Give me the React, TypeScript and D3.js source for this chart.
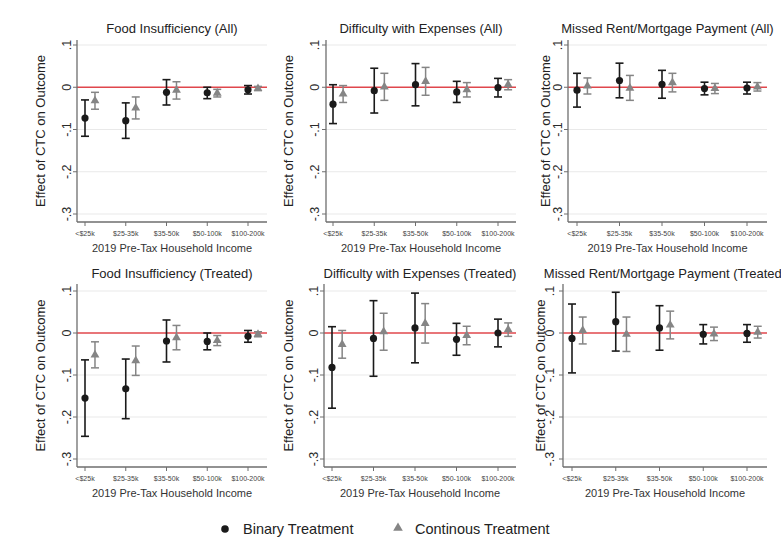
import React from "react";
import * as d3 from "d3";

// ---------- data ----------
const categories = ["<$25k", "$25-35k", "$35-50k", "$50-100k", "$100-200k"];
const yTickValues = [0.1, 0, -0.1, -0.2, -0.3];
const yTickLabels = [".1", "0", "-.1", "-.2", "-.3"];
const panelTitles = [
  "Food Insufficiency (All)",
  "Difficulty with Expenses (All)",
  "Missed Rent/Mortgage Payment (All)",
  "Food Insufficiency (Treated)",
  "Difficulty with Expenses (Treated)",
  "Missed Rent/Mortgage Payment (Treated)",
];
const xAxisTitle = "2019 Pre-Tax Household Income";
const yAxisTitle = "Effect of CTC on Outcome";
const legendLabels = ["Binary Treatment", "Continous Treatment"];

// [estimate, ci low, ci high]
const foodAllBinary = [[-0.073, -0.116, -0.030], [-0.079, -0.121, -0.037], [-0.012, -0.042, 0.018], [-0.013, -0.027, 0.000], [-0.006, -0.016, 0.004]];
const foodAllCont = [[-0.032, -0.052, -0.012], [-0.049, -0.075, -0.023], [-0.007, -0.028, 0.013], [-0.014, -0.023, -0.005], [-0.003, -0.008, 0.002]];
const diffAllBinary = [[-0.040, -0.086, 0.006], [-0.008, -0.061, 0.045], [0.006, -0.044, 0.056], [-0.011, -0.036, 0.014], [-0.001, -0.023, 0.021]];
const diffAllCont = [[-0.016, -0.036, 0.004], [0.001, -0.031, 0.033], [0.014, -0.019, 0.047], [-0.006, -0.023, 0.011], [0.006, -0.006, 0.018]];
const rentAllBinary = [[-0.007, -0.047, 0.033], [0.016, -0.025, 0.057], [0.007, -0.026, 0.040], [-0.003, -0.018, 0.012], [-0.002, -0.016, 0.012]];
const rentAllCont = [[0.003, -0.016, 0.022], [-0.002, -0.031, 0.028], [0.011, -0.011, 0.033], [-0.003, -0.015, 0.009], [0.001, -0.009, 0.011]];
const foodTrBinary = [[-0.155, -0.246, -0.064], [-0.133, -0.204, -0.062], [-0.019, -0.069, 0.031], [-0.020, -0.040, 0.000], [-0.008, -0.022, 0.006]];
const foodTrCont = [[-0.052, -0.083, -0.021], [-0.066, -0.101, -0.031], [-0.011, -0.040, 0.018], [-0.018, -0.030, -0.006], [-0.003, -0.009, 0.003]];
const diffTrBinary = [[-0.082, -0.179, 0.015], [-0.013, -0.103, 0.077], [0.012, -0.071, 0.095], [-0.015, -0.053, 0.023], [0.000, -0.033, 0.033]];
const diffTrCont = [[-0.027, -0.060, 0.006], [0.003, -0.041, 0.047], [0.023, -0.024, 0.070], [-0.006, -0.028, 0.016], [0.008, -0.008, 0.024]];
const rentTrBinary = [[-0.013, -0.095, 0.069], [0.027, -0.043, 0.097], [0.012, -0.041, 0.065], [-0.003, -0.026, 0.020], [-0.001, -0.022, 0.020]];
const rentTrCont = [[0.006, -0.026, 0.038], [-0.003, -0.044, 0.038], [0.019, -0.014, 0.052], [-0.002, -0.018, 0.014], [0.002, -0.012, 0.016]];

const binarySeries = [foodAllBinary, diffAllBinary, rentAllBinary, foodTrBinary, diffTrBinary, rentTrBinary];
const contSeries = [foodAllCont, diffAllCont, rentAllCont, foodTrCont, diffTrCont, rentTrCont];

// ---------- layout ----------
const W = 781;
const H = 539;
const FONT = "'Liberation Sans', Arial, sans-serif";
const rows = [
  { zero: 88, tickTop: 45, tickBot: 214, top: 40, bottom: 222, title: 33, xlab: 236, xtitle: 252 },
  { zero: 333, tickTop: 291, tickBot: 459, top: 284, bottom: 467, title: 278, xlab: 481, xtitle: 497 },
];
const cols = [
  [
    { axis: 77, c0: 85, c4: 248, right: 267, ytitle: 40, ylab: 67 },
    { axis: 326, c0: 333, c4: 498, right: 516, ytitle: 288, ylab: 315 },
    { axis: 568, c0: 577, c4: 747, right: 767, ytitle: 545, ylab: 558 },
  ],
  [
    { axis: 77, c0: 85, c4: 248, right: 267, ytitle: 40, ylab: 67 },
    { axis: 324, c0: 332, c4: 498, right: 516, ytitle: 288, ylab: 314 },
    { axis: 563, c0: 572, c4: 747, right: 767, ytitle: 540, ylab: 550 },
  ],
];

const BIN_COLOR = "#1a1a1a";
const CONT_COLOR = "#858585";
const RED = "#e0474c";
const AXIS = "#6e6e6e";
const GRID = "#e9e9e9";

function Panel({ idx }: { idx: number }) {
  const r = Math.floor(idx / 3);
  const c = idx % 3;
  const row = rows[r];
  const col = cols[r][c];
  const x = d3.scalePoint<string>().domain(categories).range([col.c0, col.c4]);
  const y = d3.scaleLinear().domain([-0.3, 0.1]).range([row.tickBot, row.tickTop]);
  const off = x.step() * 0.245;
  const tri = d3.symbol().type(d3.symbolTriangle).size(34)();
  const cap = 4;
  const bin = binarySeries[idx];
  const cont = contSeries[idx];
  const midX = (col.axis + col.right) / 2;
  const midY = (row.top + row.bottom) / 2;
  return (
    <g>
      {yTickValues.filter((v) => v !== 0).map((v) => (
        <line key={"g" + v} x1={col.axis} x2={col.right} y1={y(v)} y2={y(v)} stroke={GRID} strokeWidth={1} />
      ))}
      <line x1={col.axis} x2={col.right} y1={y(0)} y2={y(0)} stroke={RED} strokeWidth={1.6} />
      <line x1={col.axis} x2={col.axis} y1={row.top} y2={row.bottom} stroke={AXIS} strokeWidth={1.3} />
      <line x1={col.axis} x2={col.right} y1={row.bottom} y2={row.bottom} stroke={AXIS} strokeWidth={1.3} />
      {yTickValues.map((v, i) => (
        <g key={"yt" + v}>
          <line x1={col.axis - 4} x2={col.axis} y1={y(v)} y2={y(v)} stroke={AXIS} strokeWidth={1} />
          <text
            transform={`translate(${col.ylab},${y(v)}) rotate(-90)`}
            textAnchor="middle"
            dominantBaseline="central"
            fontSize={12.5}
            fontFamily={FONT}
            fill="#2a2a2a"
          >
            {yTickLabels[i]}
          </text>
        </g>
      ))}
      {categories.map((cat) => (
        <g key={"xt" + cat}>
          <line x1={x(cat)!} x2={x(cat)!} y1={row.bottom} y2={row.bottom + 4} stroke={AXIS} strokeWidth={1} />
          <text x={x(cat)!} y={row.xlab} textAnchor="middle" fontSize={7} fontFamily={FONT} fill="#444">
            {cat}
          </text>
        </g>
      ))}
      {cont.map((d, i) => {
        const cx = x(categories[i])! + off;
        return (
          <g key={"c" + i}>
            <line x1={cx} x2={cx} y1={y(d[1])} y2={y(d[2])} stroke={CONT_COLOR} strokeWidth={1.5} />
            <line x1={cx - cap} x2={cx + cap} y1={y(d[1])} y2={y(d[1])} stroke={CONT_COLOR} strokeWidth={1.5} />
            <line x1={cx - cap} x2={cx + cap} y1={y(d[2])} y2={y(d[2])} stroke={CONT_COLOR} strokeWidth={1.5} />
            <path d={tri!} transform={`translate(${cx},${y(d[0])})`} fill={CONT_COLOR} />
          </g>
        );
      })}
      {bin.map((d, i) => {
        const cx = x(categories[i])!;
        return (
          <g key={"b" + i}>
            <line x1={cx} x2={cx} y1={y(d[1])} y2={y(d[2])} stroke={BIN_COLOR} strokeWidth={1.6} />
            <line x1={cx - cap} x2={cx + cap} y1={y(d[1])} y2={y(d[1])} stroke={BIN_COLOR} strokeWidth={1.6} />
            <line x1={cx - cap} x2={cx + cap} y1={y(d[2])} y2={y(d[2])} stroke={BIN_COLOR} strokeWidth={1.6} />
            <circle cx={cx} cy={y(d[0])} r={3.6} fill={BIN_COLOR} />
          </g>
        );
      })}
      <text x={midX} y={row.title} textAnchor="middle" fontSize={13} fontFamily={FONT} fill="#222">
        {panelTitles[idx]}
      </text>
      <text x={midX} y={row.xtitle} textAnchor="middle" fontSize={11} fontFamily={FONT} fill="#333">
        {xAxisTitle}
      </text>
      <text
        transform={`translate(${col.ytitle},${midY}) rotate(-90)`}
        textAnchor="middle"
        dominantBaseline="central"
        fontSize={13}
        fontFamily={FONT}
        fill="#222"
      >
        {yAxisTitle}
      </text>
    </g>
  );
}

export default function App() {
  const legendTri = d3.symbol().type(d3.symbolTriangle).size(40)();
  return (
    <svg
      width={W}
      height={H}
      viewBox={`0 0 ${W} ${H}`}
      style={{ position: "fixed", left: 0, top: 0, background: "#fff" }}
    >
      <rect x={0} y={0} width={W} height={H} fill="#fff" />
      {[0, 1, 2, 3, 4, 5].map((i) => (
        <Panel key={i} idx={i} />
      ))}
      <g>
        <circle cx={225} cy={529} r={3.8} fill={BIN_COLOR} />
        <text x={243} y={529} dominantBaseline="central" fontSize={14.5} fontFamily={FONT} fill="#222">
          {legendLabels[0]}
        </text>
        <path d={legendTri!} transform="translate(398,528)" fill={CONT_COLOR} />
        <text x={415} y={529} dominantBaseline="central" fontSize={14.5} fontFamily={FONT} fill="#222">
          {legendLabels[1]}
        </text>
      </g>
    </svg>
  );
}
